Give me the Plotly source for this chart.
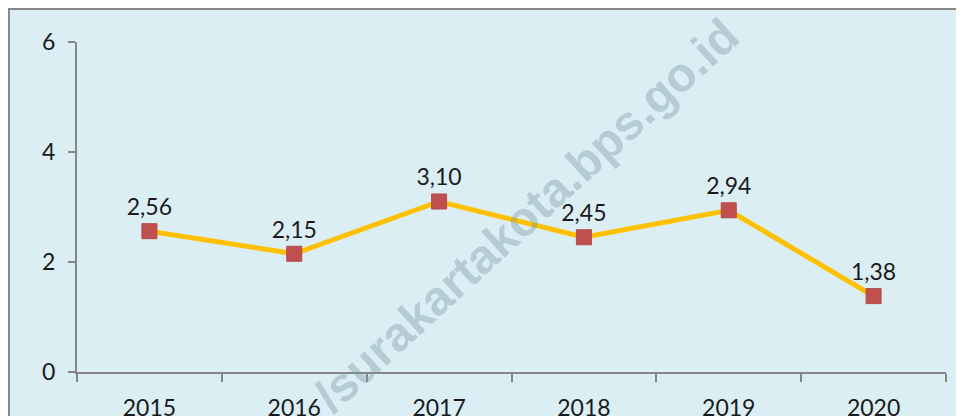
import plotly.graph_objects as go

years = ["2015", "2016", "2017", "2018", "2019", "2020"]
values = [2.56, 2.15, 3.10, 2.45, 2.94, 1.38]
y_ticks = [0, 2, 4, 6]

axis_grey = "#868686"
bg_blue = "#DAEEF3"
font_main = "Lato, 'Open Sans', sans-serif"

fig = go.Figure()
fig.add_trace(go.Scatter(
    x=years, y=values,
    mode="lines+markers+text",
    line=dict(color="#FFC000", width=5),
    marker=dict(symbol="square", size=15, color="#C0504D",
                line=dict(color="#B64B48", width=1)),
    texttemplate="%{y:.2f}",
    textposition="top center",
    textfont=dict(family=font_main, size=23, color="#1a1a1a"),
    cliponaxis=False,
    hoverinfo="skip",
))

# chart frame (light blue area with grey border, cut by the window)
fig.add_shape(type="rect", xref="paper", yref="paper",
              x0=-0.0783, x1=1.05, y0=-0.2, y1=1.1,
              fillcolor=bg_blue, line=dict(color=axis_grey, width=2),
              layer="below")

# watermark
fig.add_annotation(text="/surakartakota.bps.go.id", xref="paper", yref="paper",
                   x=0.5167, y=0.475, xanchor="center", yanchor="middle",
                   textangle=-42.5, showarrow=False,
                   font=dict(family="Liberation Sans", size=48,
                             color="rgba(120,150,160,0.38)", weight="bold"))

fig.update_xaxes(
    type="category", tickson="boundaries", range=[-0.5, 5.5],
    showline=True, linecolor=axis_grey, linewidth=2,
    ticks="outside", ticklen=8, tickwidth=2, tickcolor=axis_grey,
    showgrid=False, zeroline=False,
    tickfont=dict(family=font_main, size=23, color="#1a1a1a"),
    ticklabelstandoff=14,
)
fig.update_yaxes(
    range=[0, 6], tickvals=y_ticks,
    showline=True, linecolor=axis_grey, linewidth=2,
    ticks="outside", ticklen=7, tickwidth=2, tickcolor=axis_grey,
    showgrid=False, zeroline=False,
    tickfont=dict(family=font_main, size=23, color="#1a1a1a"),
    ticklabelstandoff=8,
)
# page body has an 8px margin, so the plot area is offset to land at 77..946 / 42..372
fig.update_layout(
    width=964, height=416,
    margin=dict(l=69, r=26, t=34, b=52, autoexpand=False),
    paper_bgcolor="white", plot_bgcolor="rgba(0,0,0,0)",
    separators=",.",
    showlegend=False,
)
fig.write_html("out.html")
